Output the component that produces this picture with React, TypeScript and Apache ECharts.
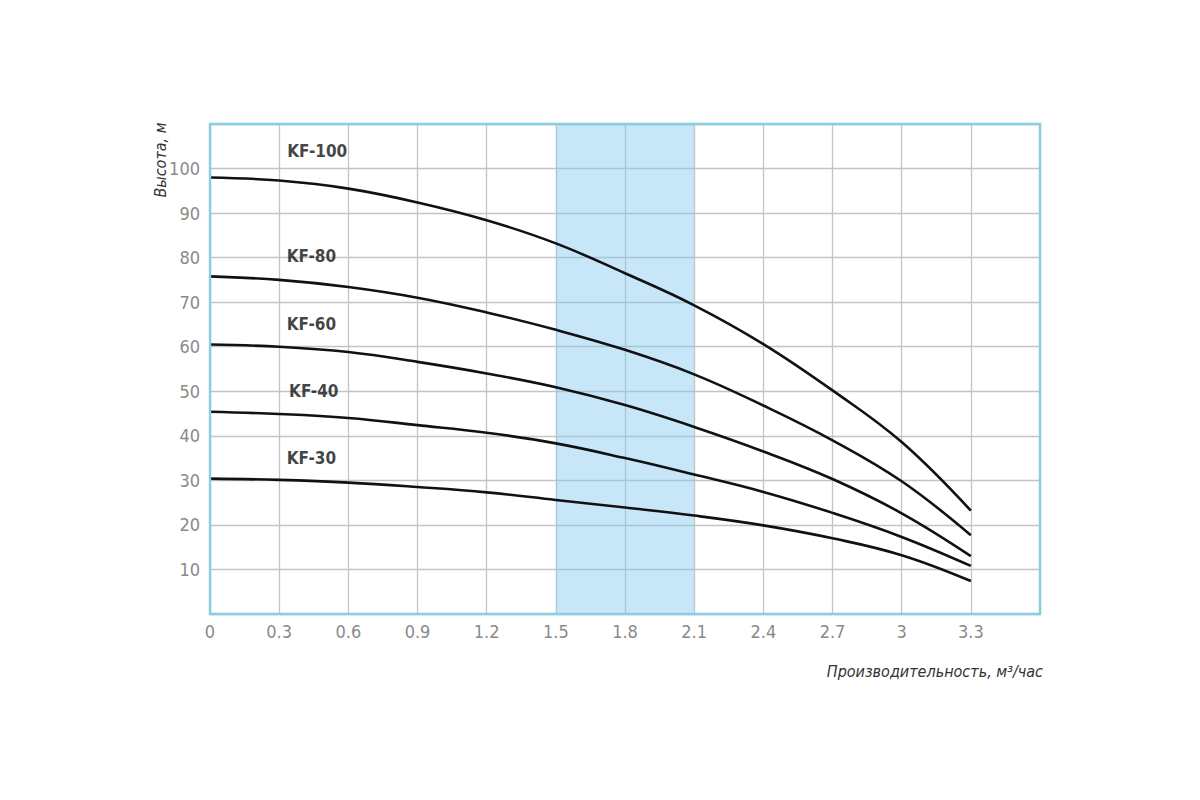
import React, { useEffect, useRef } from "react";
import * as echarts from "echarts";

const flowTicks = [0, 0.3, 0.6, 0.9, 1.2, 1.5, 1.8, 2.1, 2.4, 2.7, 3.0, 3.3];
const seriesNames = ["KF-100", "KF-80", "KF-60", "KF-40", "KF-30"];
const kf100 = [98, 97.3, 95.5, 92.4, 88.4, 83.2, 76.5, 69.3, 60.6, 50.2, 38.6, 23.2];
const kf80 = [75.8, 75.0, 73.4, 71.0, 67.7, 63.8, 59.3, 53.8, 46.8, 39.0, 29.8, 17.7];
const kf60 = [60.5, 60.0, 58.8, 56.6, 54.0, 50.9, 46.9, 42.0, 36.5, 30.3, 22.6, 13.0];
const kf40 = [45.4, 44.9, 44.0, 42.4, 40.7, 38.3, 35.0, 31.3, 27.4, 22.7, 17.3, 10.8];
const kf30 = [30.4, 30.1, 29.5, 28.5, 27.3, 25.6, 23.9, 22.1, 19.9, 17.0, 13.2, 7.4];
const curveValues = [kf100, kf80, kf60, kf40, kf30];
const labelX = [0.465, 0.44, 0.44, 0.45, 0.44];
const labelY = [104, 80.4, 65.1, 50, 35.1];
const bandRange = [1.5, 2.1];
const xTitle = "Производительность, м³/час";
const yTitle = "Высота, м";

const FONT = "'Liberation Sans Narrow', 'DejaVu Sans Condensed', 'Roboto Condensed', 'Liberation Sans', sans-serif";

export default function App() {
  const ref = useRef<HTMLDivElement>(null);
  useEffect(() => {
    document.body.style.margin = "0";
    const chart = echarts.init(ref.current!, null, { renderer: "svg" });
    const lineSeries = curveValues.map((vals, i) => ({
      type: "line",
      name: seriesNames[i],
      data: vals.map((v, j) => [flowTicks[j], v]),
      smooth: 0.4,
      showSymbol: false,
      symbol: "none",
      lineStyle: { color: "#111", width: 2.6 },
      z: 5,
      ...(i === 0
        ? {
            markArea: {
              silent: true,
              itemStyle: { color: "rgba(130, 200, 240, 0.45)" },
              data: [[{ xAxis: bandRange[0] }, { xAxis: bandRange[1] }]],
            },
          }
        : {}),
    }));
    const labelSeries = {
      type: "scatter",
      symbolSize: 0,
      silent: true,
      data: seriesNames.map((n, i) => ({ value: [labelX[i], labelY[i]], name: n })),
      label: {
        show: true,
        position: "inside",
        formatter: (p: any) => p.name,
        color: "#111",
        fontFamily: FONT,
        fontWeight: 600,
        fontSize: 17,
      },
      z: 6,
    };
    chart.setOption({
      animation: false,
      backgroundColor: "#fff",
      grid: {
        left: 210,
        top: 124,
        width: 830,
        height: 490,
        show: false,
      },
      xAxis: {
        type: "value",
        min: 0,
        max: 3.6,
        interval: 0.3,
        axisLine: { show: false },
        axisTick: { show: false },
        splitLine: { show: true, lineStyle: { color: "#c4c4c4", width: 1.3 } },
        axisLabel: {
          color: "#8a8a8a",
          fontFamily: FONT,
          fontSize: 18,
          margin: 8,
          formatter: (v: number) => (v > 3.4 ? "" : String(parseFloat(v.toFixed(1)))),
        },
      },
      yAxis: {
        type: "value",
        min: 0,
        max: 110,
        interval: 10,
        axisLine: { show: false },
        axisTick: { show: false },
        splitLine: { show: true, lineStyle: { color: "#c4c4c4", width: 1.3 } },
        axisLabel: {
          color: "#8a8a8a",
          fontFamily: FONT,
          fontSize: 18,
          margin: 10,
          formatter: (v: number) => (v === 0 || v > 105 ? "" : String(v)),
        },
      },
      graphic: [
        {
          type: "rect",
          z: 100,
          silent: true,
          shape: { x: 210, y: 124, width: 830, height: 490 },
          style: { fill: "none", stroke: "#86cfe3", lineWidth: 2.4 },
        },
        {
          type: "text",
          x: 160,
          y: 160,
          rotation: Math.PI / 2,
          style: {
            text: yTitle,
            fill: "#333",
            font: `italic 16px ${FONT}`,
            align: "center",
            verticalAlign: "middle",
          },
        },
        {
          type: "text",
          x: 1043,
          y: 671,
          style: {
            text: xTitle,
            fill: "#333",
            font: `italic 16px ${FONT}`,
            align: "right",
            verticalAlign: "middle",
          },
        },
      ],
      series: [...lineSeries, labelSeries],
    });
    return () => chart.dispose();
  }, []);
  return <div ref={ref} style={{ width: 1200, height: 800 }} />;
}
